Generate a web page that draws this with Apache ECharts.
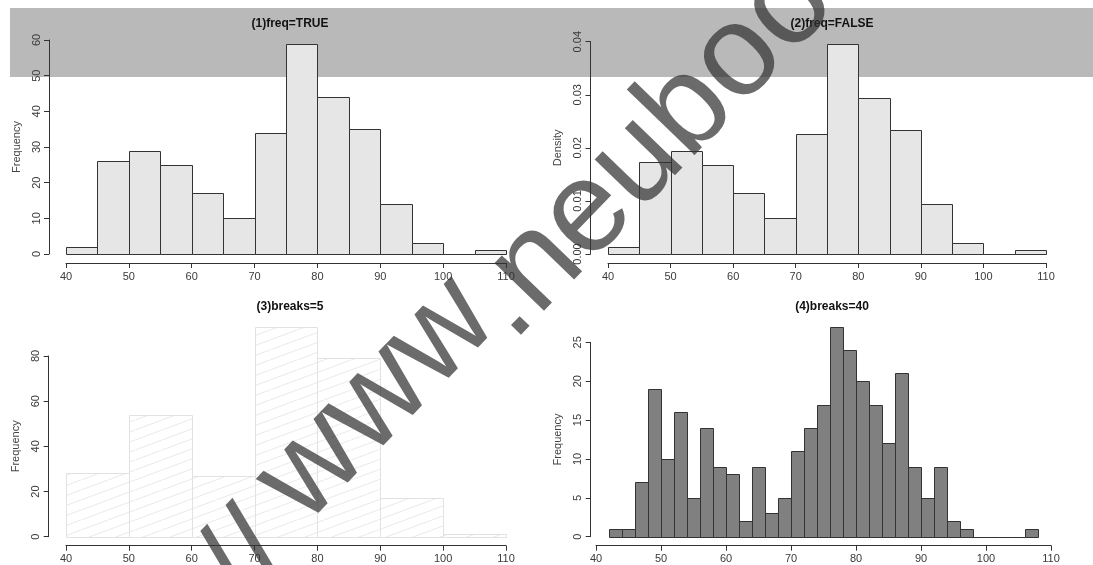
<!DOCTYPE html>
<html>
<head>
<meta charset="utf-8">
<script src="https://cdn.jsdelivr.net/npm/echarts@6/dist/echarts.min.js"></script>
<style>
html,body{margin:0;padding:0;background:#fff;}
#chart{width:1093px;height:565px;}
</style>
</head>
<body>
<div id="chart"></div>
<script>
// ---------- data ----------
const titles = ['(1)freq=TRUE', '(2)freq=FALSE', '(3)breaks=5', '(4)breaks=40'];
const xTicks = [40, 50, 60, 70, 80, 90, 100, 110];

const breaks5 = [40, 45, 50, 55, 60, 65, 70, 75, 80, 85, 90, 95, 100, 105, 110];
const freqCounts = [2, 26, 29, 25, 17, 10, 34, 59, 44, 35, 14, 3, 0, 1];
const densityValues = [0.0014, 0.0174, 0.0195, 0.0168, 0.0114, 0.0067, 0.0227, 0.0396, 0.0294, 0.0234, 0.0094, 0.0020, 0, 0.0007];

const breaks10 = [40, 50, 60, 70, 80, 90, 100, 110];
const counts10 = [28, 54, 27, 93, 79, 17, 1];

const breaks2 = [42, 44, 46, 48, 50, 52, 54, 56, 58, 60, 62, 64, 66, 68, 70, 72, 74, 76, 78, 80, 82, 84, 86, 88, 90, 92, 94, 96, 98, 100, 102, 104, 106, 108];
const counts2 = [1, 1, 7, 19, 10, 16, 5, 14, 9, 8, 2, 9, 3, 5, 11, 14, 17, 27, 24, 20, 17, 12, 21, 9, 5, 9, 2, 1, 0, 0, 0, 0, 1];

const yTicks1 = [0, 10, 20, 30, 40, 50, 60];
const yTicks2 = [0, 0.01, 0.02, 0.03, 0.04];
const yTicks3 = [0, 20, 40, 60, 80];
const yTicks4 = [0, 5, 10, 15, 20, 25];
const yNames = ['Frequency', 'Density', 'Frequency', 'Frequency'];
const watermarkParts = ['//', 'www', '.neuboo'];

// ---------- helpers ----------
function histData(breaks, vals) {
  return vals.map((v, i) => [breaks[i], breaks[i + 1], v]);
}

const hatch = document.createElement('canvas');
hatch.width = 27; hatch.height = 10;
(function () {
  const c = hatch.getContext('2d');
  c.fillStyle = '#ffffff'; c.fillRect(0, 0, 27, 10);
  c.strokeStyle = '#e9e9e9'; c.lineWidth = 1;
  c.beginPath(); c.moveTo(0, 10); c.lineTo(27, 0); c.stroke();
})();

function histRender(fill, stroke) {
  return function (params, api) {
    const p0 = api.coord([api.value(0), 0]);
    const p1 = api.coord([api.value(1), api.value(2)]);
    const x0 = Math.round(p0[0]) + 0.5, x1 = Math.round(p1[0]) + 0.5;
    const yb = Math.round(p0[1]) + 0.5, yt = Math.round(p1[1]) + 0.5;
    return {
      type: 'rect',
      shape: { x: x0, y: yt, width: x1 - x0, height: yb - yt },
      style: { fill: fill, stroke: stroke, lineWidth: 1 }
    };
  };
}

const FONT = '"Liberation Sans", Arial, sans-serif';
const grids = [
  { left: 66, top: 40, width: 440, height: 214 },
  { left: 608, top: 41.7, width: 438, height: 212.3 },
  { left: 66, top: 356, width: 440, height: 180.7 },
  { left: 596, top: 342.3, width: 455, height: 194.4 }
];
const yOffsets = [17, 17.5, 17.3, 5.3];
const yTickSets = [yTicks1, yTicks2, yTicks3, yTicks4];
const titleX = [285, 827, 285, 827];
const titleY = [13, 13, 296, 296];

function xAxisCfg(i) {
  return {
    gridIndex: i, type: 'value', min: xTicks[0], max: xTicks[xTicks.length - 1],
    interval: xTicks[1] - xTicks[0], offset: 9,
    axisLine: { show: true, onZero: false, lineStyle: { color: '#333', width: 1 } },
    axisTick: { show: true, length: 5, lineStyle: { color: '#333' } },
    axisLabel: { margin: 8, color: '#3a3a3a', fontSize: 11, fontFamily: FONT },
    splitLine: { show: false }
  };
}
function yAxisCfg(i) {
  const t = yTickSets[i];
  return {
    gridIndex: i, type: 'value', min: t[0], max: t[t.length - 1], interval: t[1] - t[0],
    offset: yOffsets[i],
    name: yNames[i], nameLocation: 'middle', nameGap: 27,
    nameTextStyle: { color: '#444', fontSize: 11, fontFamily: FONT },
    axisLine: { show: true, lineStyle: { color: '#333', width: 1 } },
    axisTick: { show: true, length: 5, lineStyle: { color: '#333' } },
    axisLabel: {
      rotate: 90, margin: 7, color: '#3a3a3a', fontSize: 11, fontFamily: FONT,
      formatter: i === 1 ? (v) => v.toFixed(2) : (v) => String(v)
    },
    splitLine: { show: false }
  };
}

const series = [
  { data: histData(breaks5, freqCounts), fill: '#e6e6e6', stroke: '#333' },
  { data: histData(breaks5, densityValues), fill: '#e6e6e6', stroke: '#333' },
  { data: histData(breaks10, counts10), fill: { image: hatch, repeat: 'repeat' }, stroke: '#e2e2e2' },
  { data: histData(breaks2, counts2), fill: '#808080', stroke: '#333' }
].map((s, i) => ({
  type: 'custom', xAxisIndex: i, yAxisIndex: i, clip: false,
  renderItem: histRender(s.fill, s.stroke),
  encode: { x: [0, 1], y: 2 },
  data: s.data, silent: true, animation: false
}));

// watermark layout (rotated text line)
const WM_ANGLE = 46 * Math.PI / 180;
const WM_SIZE = 130;
const ux = Math.cos(WM_ANGLE), uy = -Math.sin(WM_ANGLE);   // along text
const nx = Math.sin(WM_ANGLE), ny = Math.cos(WM_ANGLE);    // down, perpendicular
const wmStart = [241, 573];
const wmAlong = [-24, 78, 354];
const wmPerp = [0, -22, 0];
const wmGraphics = watermarkParts.map((txt, k) => ({
  type: 'text', z: 100, silent: true,
  x: wmStart[0] + wmAlong[k] * ux + wmPerp[k] * nx,
  y: wmStart[1] + wmAlong[k] * uy + wmPerp[k] * ny,
  rotation: WM_ANGLE,
  style: { text: txt, font: 'normal ' + WM_SIZE + 'px ' + FONT,
           fill: 'rgba(50,50,50,0.72)', textAlign: 'left', textVerticalAlign: 'middle' }
}));

const option = {
  animation: false,
  backgroundColor: '#ffffff',
  title: titles.map((t, i) => ({
    text: t, left: titleX[i], top: titleY[i], textAlign: 'center',
    textStyle: { fontSize: 12, fontWeight: 'bold', color: '#111', fontFamily: FONT }
  })),
  grid: grids,
  xAxis: [0, 1, 2, 3].map(xAxisCfg),
  yAxis: [0, 1, 2, 3].map(yAxisCfg),
  series: series,
  graphic: [
    { type: 'rect', z: -10, silent: true,
      shape: { x: 10, y: 8, width: 1083, height: 69 },
      style: { fill: '#b9b9b9' } }
  ].concat(wmGraphics)
};

const chart = echarts.init(document.getElementById('chart'), null, { renderer: 'canvas' });
chart.setOption(option);
</script>
</body>
</html>
